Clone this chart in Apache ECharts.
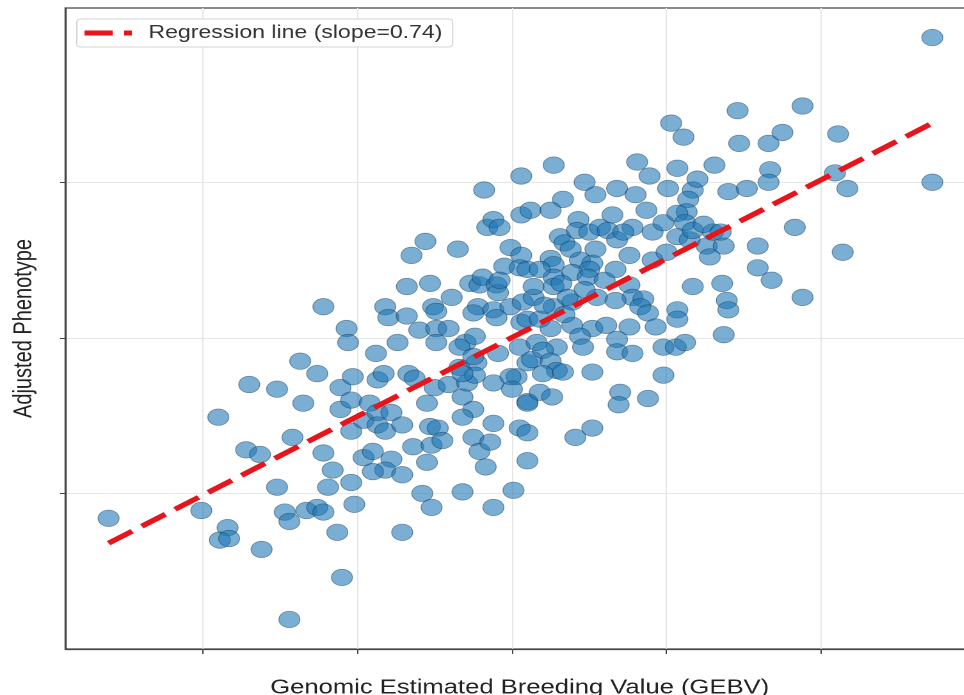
<!DOCTYPE html>
<html>
<head>
<meta charset="utf-8">
<script src="https://cdn.jsdelivr.net/npm/echarts@6/dist/echarts.min.js"></script>
<style>
    html, body { margin: 0; padding: 0; background: #fff; overflow: hidden; }
    /* the source picture is stretched sideways, so the chart is too */
    #gebv-chart { width: 753px; height: 695px; transform: scaleX(1.28); transform-origin: 0 0; }
</style>
</head>
<body>
<div id="gebv-chart"></div>
<script>
var gebv = [
    -2.61, -2.01, -1.90, -1.84, -1.89, -1.83, -1.70, -1.72, -1.62, -1.63,
    -1.52, -1.37, -1.26, -1.35, -1.42, -1.52, -1.47, -1.44, -1.33, -1.26,
    -1.22, -1.44, -1.22, -1.22, -1.16, -1.19, -1.13, -1.10, -1.07, -1.11,
    -1.11, -1.06, -1.03, -1.04, -1.04, -1.04, -1.02, -0.96, -0.92, -0.87,
    -0.87, -0.82, -0.78, -0.71, -0.87, -0.83, -0.88, -0.82, -0.80, -0.74,
    -0.68, -0.68, -0.65, -0.67, -0.96, -0.90, -0.78, -0.82, -0.90, -0.71,
    -0.71, -0.64, -0.63, -0.56, -0.35, -0.53, -0.39, -0.51, -0.49,
    -0.60, -0.49, -0.41, -0.49, -0.30, -0.24, -0.27, -0.21, -0.19, -0.22,
    -0.25, -0.34, -0.23, -0.55, -0.50, -0.41, -0.32, -0.29, -0.25, -0.32,
    -0.24, -0.53, -0.48, -0.52, -0.45, -0.25, -0.55, -0.58, -0.52, -0.32,
    -0.21, -0.34, -0.25, -0.32, -0.18, -0.16, -0.12, -0.08, 0.06, 0.06,
    -0.01, 0.06, -0.05, 0.05, -0.10, -0.09, -0.12, -0.01, -0.10, 0.06,
    -0.09, 0.05, 0.10, 0.03, -0.12, -0.01, 0.00, 0.10, -0.12, -0.14,
    0.05, 0.10, -0.17, 0.10, 0.01, -0.12, 0.07, 0.14, 0.10, 0.16,
    0.13, 0.10, -0.08, 0.10, 0.14, 0.12, 0.27, 0.33, 0.25, 0.43,
    0.31, 0.34, 0.42, 0.47, 0.54, 0.25, 0.27, 0.44, 0.52, 0.50,
    0.27, 0.39, 0.49, 0.27, 0.32, 0.27, 0.39, 0.36, 0.55, 0.25,
    0.39, 0.52, 0.44, 0.46, 0.29, 0.20, 0.25, 0.29, 0.20, 0.33,
    0.52, 0.18, 0.26, 0.52, 0.41, 0.50, 0.57, 0.38, 0.18, 0.21,
    0.34, 0.47, 0.54, 0.18, 0.62, 0.68, 0.80, 0.81, 0.89, 0.68,
    0.78, 0.87, 0.72, 0.91, 0.98, 0.76, 0.91, 0.76, 0.78, 0.85,
    0.83, 0.88, 0.67, 0.61, 0.76, 0.93, 0.68, 0.68, 0.78, 0.70,
    0.69, 0.88, 0.60, 0.67, 0.65, 1.03, 1.11, 1.07, 1.01, 1.17,
    1.20, 1.31, 1.14, 1.13, 1.07, 1.12, 1.07, 1.15, 1.17, 1.00,
    1.26, 1.30, 1.24, 1.17, 0.98, 1.06, 1.12, 0.98, 1.07, 1.07,
    1.28, 1.37, 1.36, 1.39, 1.40, 1.37, 1.59, 1.59, 1.68, 1.83,
    1.88, 2.14, 1.40, 1.52, 1.67, 1.66, 1.46, 1.47, 1.66, 1.75,
    1.88, 2.11, 2.09, 2.17, 2.72, 2.72, 1.35
];
var phenotype = [
    -1.16, -1.11, -0.51, -1.22, -1.30, -1.29, -0.30, -0.72, -1.36, -0.75,
    -0.33, -0.15, -0.23, -0.42, -0.64, -0.96, -1.12, -1.18, -1.11, -1.09,
    -1.12, -1.81, 0.20, -0.74, -0.85, -0.96, -1.25, -1.54, 0.06, -0.32,
    -0.46, -0.03, -0.25, -0.40, -0.60, -0.93, -1.07, -0.53, -0.42, -0.48,
    -0.56, -0.60, -0.48, -0.56, -0.27, -0.23, -0.10, 0.20, 0.13, -0.03,
    0.33, 0.14, 0.53, -0.23, -0.77, -0.73, -0.78, -0.85, -0.86, -0.88,
    -1.25, -0.70, -0.26, 0.62, 0.57, 0.35, 0.26, 0.20, 0.17,
    0.05, 0.06, 0.06, -0.03, -0.03, 0.01, 0.35, 0.34, 0.39, 0.20,
    0.16, -0.19, -0.16, -0.42, -0.32, -0.30, -0.38, -0.29, -0.46, -0.51,
    -0.24, -0.57, -0.58, -0.69, -0.66, -0.64, -0.80, -1.00, -1.09, -0.99,
    -0.73, -0.06, -0.12, -0.23, 0.95, 0.71, 0.76, 0.71, 0.79, 1.04,
    0.58, 0.53, 0.46, 0.45, 0.34, 0.29, 0.18, 0.20, 0.13, 0.10,
    -0.10, -0.06, -0.16, -0.25, -0.29, -0.25, -0.33, -0.41, -0.55, -0.67,
    -0.58, -0.61, -0.83, -0.79, -0.98, -1.09, 0.23, 0.26, 0.12, -0.03,
    -0.14, -0.42, 0.37, 0.44, 0.33, 0.82, 1.11, 0.89, 0.82, 0.76,
    0.65, 0.61, 0.69, 1.00, 0.92, 0.51, 0.47, 0.50, 0.48, 0.44,
    0.39, 0.42, 0.39, 0.33, 0.35, 0.20, 0.23, 0.26, 0.26, 0.06,
    0.08, 0.06, 0.01, -0.06, -0.06, -0.08, -0.15, -0.21, -0.23, -0.22,
    -0.22, -0.35, -0.38, -0.58, -0.64, 0.68, 0.71, 0.57, 0.12, 0.21,
    0.15, 0.31, 0.57, 0.44, 0.69, 0.96, 0.92, 1.13, 1.04, 0.63,
    0.71, 0.82, 0.68, 0.68, 0.74, 0.53, 0.50, 0.34, 0.26, 0.25,
    0.20, 0.16, 0.24, 0.08, 0.07, 0.07, -0.01, -0.09, -0.10, -0.35,
    -0.43, -0.39, 0.37, 0.44, 0.79, 1.38, 1.29, 1.09, 0.96, 0.95,
    1.02, 1.11, 0.89, 0.81, 0.80, 0.74, 0.65, 0.63, 0.69, 0.55,
    0.59, 0.68, 0.73, 0.33, -0.06, -0.06, -0.03, -0.24, 0.18, 0.12,
    0.52, 0.59, 0.35, 0.24, 0.18, 0.02, 0.59, 0.45, 0.37, 0.71,
    0.26, 0.55, 0.94, 0.96, 1.08, 1.00, 1.46, 1.25, 1.25, 1.32,
    1.49, 1.31, 1.06, 0.96, 1.93, 1.00, 0.68
];
// fitted line, read at the two ends of the dashes
var regX = [-2.61, 2.72];
var regY = [-1.32, 1.38];
var regName = 'Regression line (slope=0.74)';
var regColor = '#e8141b';
var xTicks = [-2, -1, 0, 1, 2];
var yTicks = [-1, 0, 1];

var points = [];
for (var i = 0; i < gebv.length; i++) {
    points.push([gebv[i], phenotype[i]]);
}

var myChart = echarts.init(document.getElementById('gebv-chart'), null, { devicePixelRatio: 2 });

option = {
    animation: false,
    grid: {
        left: 51,
        top: 8,
        width: 710,
        height: 641,
        outerBoundsMode: 'none',
        show: true,
        borderColor: '#444',
        borderWidth: 1.2
    },
    legend: {
        data: [regName],
        left: 60,
        top: 19,
        padding: [5, 8, 5, 6],
        // two dashes, like the handle of a dashed line
        icon: 'path://M0,0H22V5H0Z M31,0H37V5H31Z',
        itemWidth: 37,
        itemHeight: 5,
        backgroundColor: '#fff',
        borderColor: '#d4d4d4',
        borderWidth: 1,
        borderRadius: 3,
        selectedMode: false,
        textStyle: {
            fontFamily: 'Liberation Sans, Arial, sans-serif',
            fontSize: 18,
            color: '#333',
            padding: [0, 0, 0, 8]
        }
    },
    xAxis: {
        type: 'value',
        min: -2.89,
        max: 2.99,
        name: 'Genomic Estimated Breeding Value (GEBV)',
        nameLocation: 'middle',
        nameGap: 29,
        nameTextStyle: { fontFamily: 'Liberation Sans, Arial, sans-serif', fontSize: 20, color: '#222' },
        axisLine: { show: true, onZero: false, lineStyle: { color: '#444', width: 1.2 } },
        axisTick: { show: true, length: 5, customValues: xTicks, lineStyle: { color: '#444' } },
        axisLabel: { show: false, customValues: xTicks },
        splitLine: { show: true, lineStyle: { color: '#e6e6e6', width: 1 } }
    },
    yAxis: {
        type: 'value',
        min: -2.0,
        max: 2.12,
        name: 'Adjusted Phenotype',
        nameLocation: 'middle',
        nameGap: 22,
        nameTextStyle: { fontFamily: 'Liberation Sans, Arial, sans-serif', fontSize: 20, color: '#222' },
        axisLine: { show: true, onZero: false, lineStyle: { color: '#444', width: 1.2 } },
        axisTick: { show: true, length: 4, customValues: yTicks, lineStyle: { color: '#444' } },
        axisLabel: { show: false, customValues: yTicks },
        splitLine: { show: true, lineStyle: { color: '#e6e6e6', width: 1 } }
    },
    series: [
        {
            type: 'scatter',
            data: points,
            symbolSize: 16.5,
            z: 2,
            itemStyle: {
                color: 'rgba(31, 119, 180, 0.74)',
                borderColor: 'rgba(15, 45, 75, 0.6)',
                borderWidth: 0.7
            },
            emphasis: { disabled: true }
        },
        {
            name: regName,
            type: 'line',
            data: [[regX[0], regY[0]], [regX[1], regY[1]]],
            symbol: 'none',
            z: 3,
            itemStyle: { color: regColor },
            lineStyle: { color: regColor, width: 5, type: [22, 9] },
            emphasis: { disabled: true }
        }
    ]
};

myChart.setOption(option);
</script>
</body>
</html>
